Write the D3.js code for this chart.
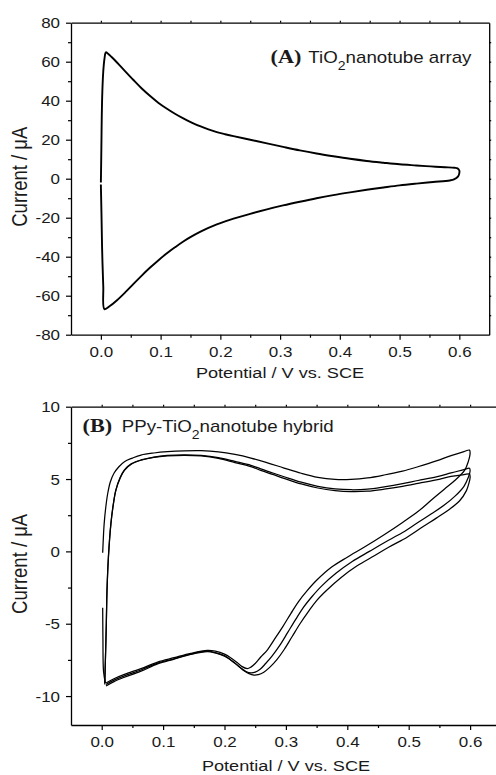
<!DOCTYPE html>
<html><head><meta charset="utf-8">
<script src="https://cdn.jsdelivr.net/npm/d3@7/dist/d3.min.js"></script>
<style>body{margin:0;background:#fff}svg{display:block}</style>
</head><body>
<svg id="chart" width="496" height="775"></svg>
<script>
// ---------- data ----------
const xMajorTicks = [0.0, 0.1, 0.2, 0.3, 0.4, 0.5, 0.6];
const xMinorTicks = [-0.05, 0.05, 0.15, 0.25, 0.35, 0.45, 0.55, 0.65];
const yMajorTicksA = [-80, -60, -40, -20, 0, 20, 40, 60, 80];
const yMinorTicksA = [-70, -50, -30, -10, 10, 30, 50, 70];
const yMajorTicksB = [-10, -5, 0, 5, 10];
const yMinorTicksB = [-12.5, -7.5, -2.5, 2.5, 7.5];
const xLabel = "Potential / V vs. SCE";
const yLabel = "Current  / \u03bcA";

// Panel A: TiO2 nanotube array (potential V, current µA)
const cvA = [[0.0,-2],[0.0005,8],[0.001,20],[0.0015,32],[0.0025,45],[0.004,55],[0.006,61.5],[0.0084,64.8],[0.012,64.1],[0.018,62.4],[0.027,59.6],[0.04,55.3],[0.0545,50.6],[0.068,46.4],[0.0825,42.4],[0.096,39.0],[0.11,36.0],[0.124,33.3],[0.138,30.9],[0.152,28.8],[0.166,26.9],[0.18,25.3],[0.194,23.9],[0.208,22.8],[0.222,21.8],[0.25,20.0],[0.278,18.1],[0.305,16.3],[0.333,14.5],[0.361,12.9],[0.389,11.5],[0.417,10.2],[0.445,9.1],[0.473,8.2],[0.5,7.4],[0.528,6.8],[0.552,6.3],[0.576,5.9],[0.592,5.6],[0.597,5.3],[0.6,4.2],[0.6,2.9],[0.598,1.2],[0.591,-0.4],[0.584,-0.9],[0.556,-1.7],[0.528,-2.5],[0.5,-3.4],[0.473,-4.5],[0.445,-5.7],[0.417,-7.0],[0.389,-8.4],[0.361,-10.0],[0.333,-11.8],[0.305,-13.7],[0.278,-15.7],[0.25,-18.0],[0.222,-20.5],[0.208,-21.9],[0.194,-23.4],[0.18,-25.2],[0.166,-27.3],[0.152,-29.6],[0.138,-32.2],[0.124,-35.2],[0.11,-38.4],[0.096,-41.9],[0.082,-45.7],[0.068,-49.8],[0.055,-53.8],[0.041,-58.2],[0.027,-62.3],[0.015,-65.3],[0.006,-66.9],[0.004,-55],[0.002,-35],[0.001,-18],[0.0,-3]];

// Panel B: PPy-TiO2 nanotube hybrid, three cycles + starting trace
const cvB1 = [[0.0016,-0.1],[0.003,1.2],[0.004,1.9],[0.0065,3.0],[0.0098,4.0],[0.014,4.8],[0.02,5.4],[0.028,5.85],[0.037,6.2],[0.05,6.45],[0.064,6.66],[0.085,6.8],[0.107,6.89],[0.135,6.95],[0.162,6.96],[0.19,6.88],[0.217,6.7],[0.243,6.45],[0.27,6.12],[0.297,5.76],[0.325,5.4],[0.352,5.12],[0.38,4.98],[0.406,4.98],[0.433,5.08],[0.46,5.28],[0.49,5.55],[0.515,5.85],[0.545,6.25],[0.569,6.62],[0.59,6.9],[0.599,7.0],
  [0.6,6.8],[0.597,6.2],[0.591,5.6],[0.575,4.9],[0.558,4.3],[0.537,3.55],[0.515,2.75],[0.49,2.0],[0.46,1.15],[0.428,0.3],[0.4,-0.4],[0.374,-1.1],[0.35,-2.0],[0.335,-2.7],[0.32,-3.5],[0.308,-4.3],[0.295,-5.2],[0.281,-6.1],[0.27,-6.8],[0.259,-7.3],[0.25,-7.75],[0.243,-8.0],[0.237,-8.1],[0.228,-7.95],[0.221,-7.7],[0.21,-7.35],[0.2,-7.1],[0.185,-6.9],[0.172,-6.85],[0.145,-7.05],[0.118,-7.35],[0.091,-7.65],[0.064,-8.1],[0.037,-8.5],[0.02,-8.8],[0.007,-9.1]];
const cvB2 = [[0.005,-9.1],[0.006,-7.5],[0.0075,-5],[0.0086,-2.7],[0.011,-0.3],[0.015,1.94],[0.019,3.3],[0.023,4.24],[0.03,5.1],[0.037,5.63],[0.048,6.05],[0.064,6.32],[0.085,6.52],[0.107,6.63],[0.135,6.67],[0.162,6.63],[0.19,6.48],[0.217,6.22],[0.243,5.95],[0.259,5.7],[0.28,5.4],[0.297,5.16],[0.325,4.78],[0.352,4.5],[0.38,4.32],[0.406,4.26],[0.433,4.3],[0.46,4.46],[0.49,4.68],[0.515,4.9],[0.545,5.15],[0.569,5.42],[0.59,5.65],[0.599,5.74],
  [0.6,5.55],[0.597,5.1],[0.59,4.5],[0.575,3.8],[0.558,3.2],[0.537,2.6],[0.515,2.0],[0.49,1.3],[0.46,0.6],[0.436,0.0],[0.408,-0.7],[0.382,-1.5],[0.358,-2.4],[0.343,-3.1],[0.328,-3.9],[0.316,-4.7],[0.303,-5.6],[0.29,-6.5],[0.278,-7.2],[0.267,-7.75],[0.258,-8.15],[0.25,-8.35],[0.243,-8.4],[0.235,-8.3],[0.225,-8.0],[0.21,-7.5],[0.2,-7.2],[0.185,-7.0],[0.172,-6.9],[0.145,-7.1],[0.118,-7.42],[0.091,-7.72],[0.064,-8.2],[0.037,-8.6],[0.02,-8.9],[0.007,-9.2]];
const cvB3 = [[0.005,-9.2],[0.006,-7.6],[0.0075,-5.1],[0.0086,-2.8],[0.011,-0.4],[0.015,1.9],[0.019,3.25],[0.023,4.2],[0.03,5.05],[0.037,5.6],[0.048,6.02],[0.064,6.3],[0.085,6.5],[0.107,6.6],[0.135,6.64],[0.162,6.6],[0.19,6.43],[0.217,6.14],[0.243,5.86],[0.259,5.6],[0.28,5.3],[0.297,5.05],[0.325,4.66],[0.352,4.38],[0.38,4.2],[0.406,4.13],[0.433,4.16],[0.46,4.3],[0.49,4.5],[0.515,4.7],[0.545,4.95],[0.569,5.18],[0.59,5.3],[0.599,5.35],
  [0.6,5.1],[0.598,4.7],[0.594,4.2],[0.583,3.5],[0.566,2.9],[0.545,2.3],[0.523,1.7],[0.498,1.0],[0.468,0.3],[0.444,-0.3],[0.416,-1.0],[0.39,-1.8],[0.366,-2.7],[0.35,-3.4],[0.336,-4.2],[0.323,-5.0],[0.31,-5.9],[0.297,-6.8],[0.285,-7.5],[0.274,-8.0],[0.264,-8.35],[0.255,-8.52],[0.248,-8.55],[0.24,-8.45],[0.23,-8.2],[0.215,-7.65],[0.2,-7.25],[0.185,-7.02],[0.172,-6.93],[0.145,-7.12],[0.118,-7.45],[0.091,-7.78],[0.064,-8.28],[0.037,-8.7],[0.02,-9.0],[0.007,-9.3]];
const cvBstart = [[0.0016,-3.9],[0.002,-6.0],[0.003,-8.3],[0.006,-9.1]];

// ---------- drawing ----------
const svg = d3.select("#chart");
const SANS = "'Liberation Sans', Arial, Helvetica, sans-serif";
const SERIF = "'Liberation Serif', 'Times New Roman', serif";
const sx = 1.17; // horizontal glyph stretch of the original figure

function drawPanel(cfg) {
  const g = svg.append("g");
  const x = d3.scaleLinear().domain([-0.05, 0.65]).range([cfg.left, cfg.right]);
  const y = d3.scaleLinear().domain(cfg.yDomain).range([cfg.bottom, cfg.top]);

  // curves
  const line = d3.line().x(d => x(d[0])).y(d => y(d[1])).curve(d3.curveCatmullRom.alpha(0.5));
  cfg.series.forEach(s => {
    g.append("path").datum(s).attr("d", line)
      .attr("fill", "none").attr("stroke", "#000")
      .attr("stroke-width", cfg.lw).attr("stroke-linejoin", "round");
  });

  const styleAxis = sel => {
    sel.selectAll("path.domain").attr("stroke", "#000").attr("stroke-width", 1.3);
    sel.selectAll(".tick line").attr("stroke", "#000").attr("stroke-width", 1.2);
  };

  // bottom axis
  const gb = g.append("g").attr("transform", `translate(0,${cfg.bottom})`);
  gb.call(d3.axisBottom(x).tickValues(xMajorTicks).tickSize(5).tickSizeOuter(0).tickFormat(d3.format(".1f")));
  gb.append("g").call(d3.axisBottom(x).tickValues(xMinorTicks.filter(v => x(v) > cfg.left + 1 && x(v) < cfg.right - 1)).tickSize(3).tickFormat(""))
    .select("path.domain").remove();
  styleAxis(gb);
  gb.selectAll(".tick text").attr("x", 0).attr("y", 12).attr("dy", "0.71em")
    .attr("transform", `scale(${sx},1)`)
    .style("font-family", SANS).style("font-size", "14.5px").attr("fill", "#1a1a1a");

  // left axis
  const gl = g.append("g").attr("transform", `translate(${cfg.left},0)`);
  gl.call(d3.axisLeft(y).tickValues(cfg.yMajor).tickSize(5).tickSizeOuter(0).tickFormat(d => String(d)));
  gl.append("g").call(d3.axisLeft(y).tickValues(cfg.yMinor.filter(v => y(v) < cfg.bottom - 1 && y(v) > cfg.top + 1)).tickSize(3).tickFormat(""))
    .select("path.domain").remove();
  styleAxis(gl);
  gl.selectAll(".tick text").attr("x", -11 / sx).attr("dy", "0.36em")
    .attr("transform", `scale(${sx},1)`)
    .style("font-family", SANS).style("font-size", "14.5px").attr("fill", "#1a1a1a");

  // top border with small ticks
  const gt = g.append("g").attr("transform", `translate(0,${cfg.top})`);
  gt.call(d3.axisTop(x).tickValues(xMajorTicks.concat(xMinorTicks).filter(v => x(v) > cfg.left + 1 && x(v) < cfg.right - 1)).tickSize(2).tickSizeOuter(0).tickFormat(""));
  styleAxis(gt);

  if (cfg.rightBorder) {
    const gr = g.append("g").attr("transform", `translate(${cfg.right},0)`);
    gr.call(d3.axisRight(y).tickValues(cfg.yMajor.concat(cfg.yMinor).filter(v => y(v) < cfg.bottom - 1 && y(v) > cfg.top + 1)).tickSize(2).tickSizeOuter(0).tickFormat(""));
    styleAxis(gr);
  }
  g.selectAll(".domain").attr("fill", "none");

  // axis titles
  g.append("text").text(xLabel)
    .attr("transform", `translate(${cfg.xTitleX},${cfg.xTitleY}) scale(${sx},1)`)
    .attr("text-anchor", "middle").style("font-family", SANS).style("font-size", "15.5px").attr("fill", "#1a1a1a");
  g.append("text").text(yLabel)
    .attr("transform", `translate(26.5,${(cfg.top + cfg.bottom) / 2 - 2}) scale(${sx},1) rotate(-90)`)
    .attr("text-anchor", "middle").style("font-family", SANS).style("font-size", "18.5px").attr("fill", "#1a1a1a");

  // panel label
  g.append("text").text(cfg.tag)
    .attr("transform", `translate(${cfg.tagX},${cfg.tagY}) scale(${sx},1)`)
    .style("font-family", SERIF).style("font-weight", "bold").style("font-size", "19px").attr("fill", "#1a1a1a");
  const t = g.append("text")
    .attr("transform", `translate(${cfg.nameX},${cfg.tagY}) scale(${sx},1)`)
    .style("font-family", SANS).style("font-size", "16px").attr("fill", "#1a1a1a");
  t.append("tspan").text(cfg.name[0]);
  t.append("tspan").text(cfg.name[1]).attr("dy", 7).style("font-size", "12px");
  t.append("tspan").text(cfg.name[2]).attr("dy", -7);
}

drawPanel({
  left: 71, right: 489.2, top: 22.7, bottom: 334.7, yDomain: [-80, 80],
  yMajor: yMajorTicksA, yMinor: yMinorTicksA, series: [cvA], lw: 1.9,
  rightBorder: true, xTitleX: 280, xTitleY: 377.5,
  tag: "(A)", tagX: 270.5, tagY: 63.3, nameX: 308.3, name: ["TiO", "2", "nanotube array"]
});
drawPanel({
  left: 71, right: 500.8, top: 406.7, bottom: 725, yDomain: [-12, 10],
  yMajor: yMajorTicksB, yMinor: yMinorTicksB, series: [cvBstart, cvB1, cvB2, cvB3], lw: 1.25,
  rightBorder: true, xTitleX: 286, xTitleY: 771,
  tag: "(B)", tagX: 82.5, tagY: 431.7, nameX: 121.7, name: ["PPy-TiO", "2", "nanotube hybrid"]
});
</script>
</body></html>
